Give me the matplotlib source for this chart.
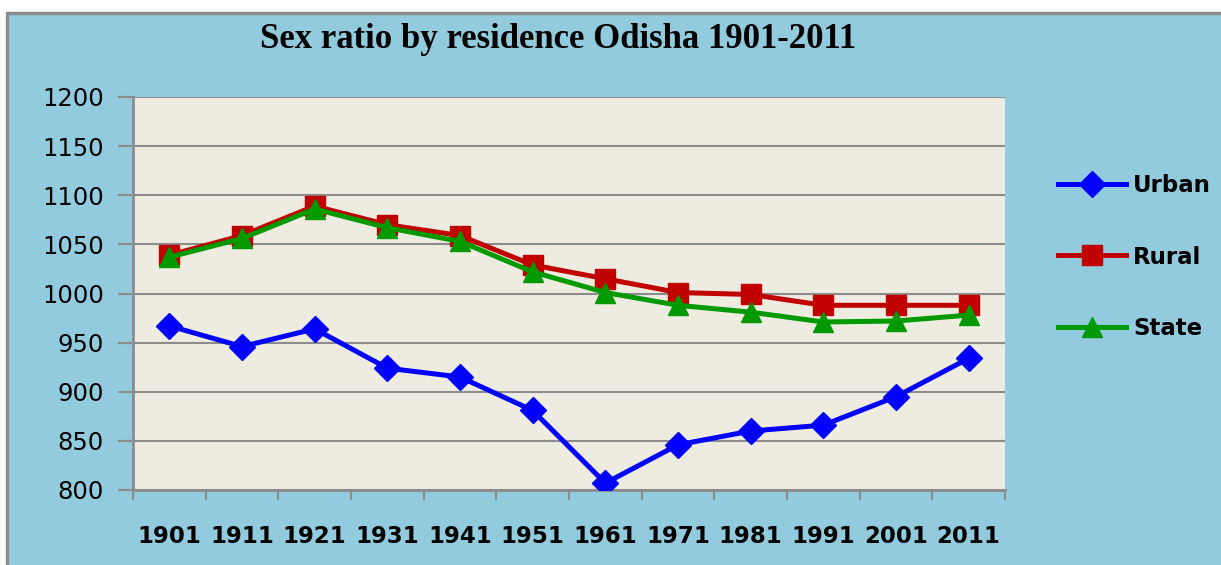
import numpy as np
import matplotlib.pyplot as plt
from matplotlib.patches import Rectangle
from matplotlib.lines import Line2D

years = ['1901', '1911', '1921', '1931', '1941', '1951', '1961', '1971', '1981', '1991', '2001', '2011']
urban = [967, 946, 964, 924, 915, 881, 807, 846, 860, 866, 895, 934]
rural = [1039, 1059, 1089, 1070, 1059, 1029, 1015, 1001, 999, 988, 988, 988]
state = [1037, 1056, 1086, 1067, 1053, 1022, 1001, 988, 981, 971, 972, 978]

blue_bg = '#92CBDD'
grid_c = '#8C8C8C'

fig = plt.figure(figsize=(12.21, 5.65), dpi=100, facecolor='white')
# light blue chart area with a gray border, kept behind the axes
fig.patches.append(Rectangle((7/1221, -0.01), 1.0, 1.01 - 13/565, transform=fig.transFigure,
                             facecolor=blue_bg, edgecolor=grid_c, linewidth=2.5, zorder=-5))

ax = fig.add_axes([133/1221, 1 - 490/565, 872/1221, 393/565])
ax.set_facecolor('#EEECE1')

x = np.arange(len(years))
ax.plot(x, urban, color='#0000FF', lw=3.6, marker='D', ms=13, label='Urban', zorder=3)
ax.plot(x, rural, color='#C00000', lw=3.6, marker='s', ms=14, label='Rural', zorder=3)
ax.plot(x, state, color='#009900', lw=3.6, marker='^', ms=15, label='State', zorder=4)

ax.set_xlim(-0.5, len(years) - 0.5)
ax.set_ylim(800, 1200)
ax.set_yticks(np.arange(800, 1201, 50))
ax.yaxis.grid(True, color=grid_c, lw=1.5)
ax.set_axisbelow(True)

ax.set_xticks(x)
ax.set_xticklabels(years, fontsize=16.5, fontweight='bold')
ax.set_xticks(np.arange(-0.5, len(years), 1), minor=True)
ax.tick_params(axis='x', which='major', length=0, pad=25)
ax.tick_params(axis='x', which='minor', length=7, width=1.5, color=grid_c)
ax.tick_params(axis='y', length=11, width=1.5, color=grid_c, labelsize=17.5, pad=10)

for s in ['top', 'right']:
    ax.spines[s].set_visible(False)
for s in ['left', 'bottom']:
    ax.spines[s].set_color(grid_c)
    ax.spines[s].set_linewidth(2)

fig.text(558/1221, 1 - 40/565, 'Sex ratio by residence Odisha 1901-2011',
         ha='center', va='center', fontsize=25, fontweight='bold', family='Liberation Serif')

handles = [Line2D([], [], color='#0000FF', lw=3.6, marker='D', ms=13),
           Line2D([], [], color='#C00000', lw=3.6, marker='s', ms=14),
           Line2D([], [], color='#009900', lw=3.6, marker='^', ms=15)]
fig.legend(handles, ['Urban', 'Rural', 'State'], loc='center left',
           bbox_to_anchor=(1037/1221, 1 - 257/565), frameon=False,
           prop={'size': 16.5, 'weight': 'bold'}, handlelength=3.0,
           labelspacing=2.1, handletextpad=0.3)

fig.savefig('out.png', dpi=100, facecolor='white')
